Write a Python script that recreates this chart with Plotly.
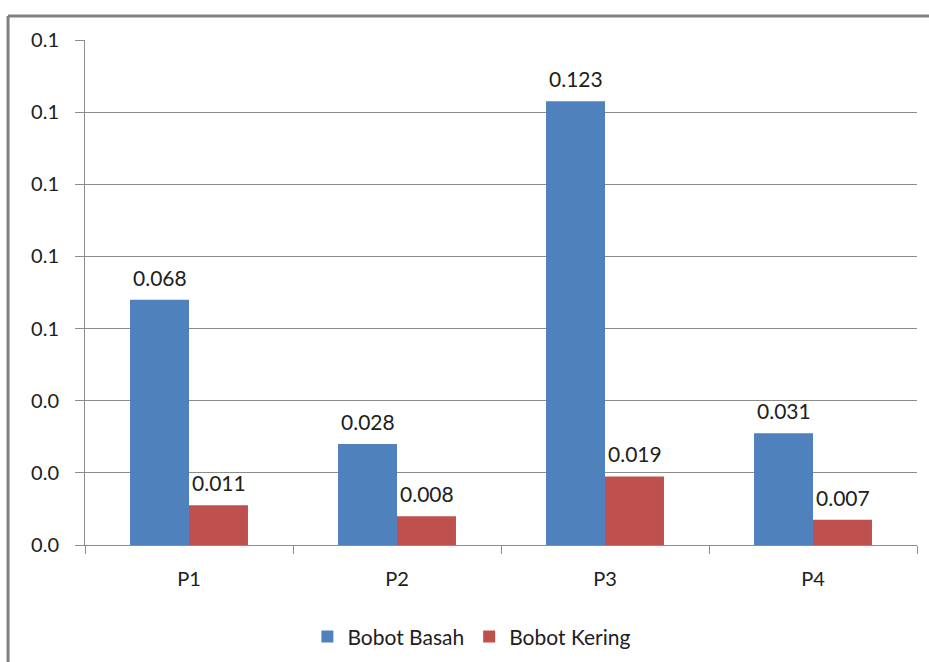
import plotly.graph_objects as go

# Data
categories = ["P1", "P2", "P3", "P4"]
bobot_basah = [0.068, 0.028, 0.123, 0.031]
bobot_kering = [0.011, 0.008, 0.019, 0.007]
y_tick_values = [0, 0.02, 0.04, 0.06, 0.08, 0.10, 0.12, 0.14]
y_tick_labels = ["0.0", "0.0", "0.0", "0.1", "0.1", "0.1", "0.1", "0.1"]

FONT = "Lato, Open Sans, sans-serif"
TEXT = "#202020"
BLUE = "#4F81BD"
RED = "#C0504D"
GRID = "#8c8c8c"

fig = go.Figure()
fig.add_trace(go.Bar(name="Bobot Basah", x=categories, y=bobot_basah,
                     marker=dict(color=BLUE, line=dict(width=0))))
fig.add_trace(go.Bar(name="Bobot Kering", x=categories, y=bobot_kering,
                     marker=dict(color=RED, line=dict(width=0))))

# Value labels above each bar
annotations = []
for series, shift in ((bobot_basah, -29.5), (bobot_kering, 29.5)):
    for cat, val in zip(categories, series):
        annotations.append(dict(
            x=cat, y=val, xref="x", yref="y", text=f"{val:.3f}",
            showarrow=False, xshift=shift, yshift=8, yanchor="bottom",
            font=dict(family=FONT, size=21, color=TEXT)))

fig.update_layout(
    width=929, height=662,
    margin=dict(l=85, r=12, t=40, b=117, autoexpand=False),
    paper_bgcolor="white", plot_bgcolor="white",
    barmode="group", bargap=0.433, bargroupgap=0,
    font=dict(family=FONT, size=20, color=TEXT),
    showlegend=True,
    legend=dict(orientation="h", x=0.465, xanchor="center", xref="paper",
                y=-0.182, yanchor="middle", font=dict(family=FONT, size=21, color=TEXT),
                itemwidth=30, traceorder="normal"),
    annotations=annotations,
    shapes=[
        dict(type="line", xref="paper", yref="paper", x0=-0.0925, x1=1.02,
             y0=1.0475, y1=1.0475, line=dict(color="#808080", width=3)),
        dict(type="line", xref="paper", yref="paper", x0=-0.0925, x1=-0.0925,
             y0=1.0475, y1=-0.25, line=dict(color="#808080", width=3)),
    ],
)
fig.update_xaxes(showline=True, linecolor=GRID, linewidth=1, automargin=False,
                 ticks="outside", tickson="boundaries", ticklen=8,
                 tickcolor=GRID, showgrid=False, ticklabelstandoff=16,
                 tickfont=dict(family=FONT, size=20, color=TEXT))
fig.update_yaxes(range=[0, 0.14], tickvals=y_tick_values, ticktext=y_tick_labels,
                 showline=True, linecolor=GRID, linewidth=1, automargin=False,
                 ticks="outside", ticklen=9, tickcolor=GRID, ticklabelstandoff=12,
                 showgrid=True, gridcolor=GRID, gridwidth=1, zeroline=False,
                 tickfont=dict(family=FONT, size=20, color=TEXT))

fig.write_html("out.html")
